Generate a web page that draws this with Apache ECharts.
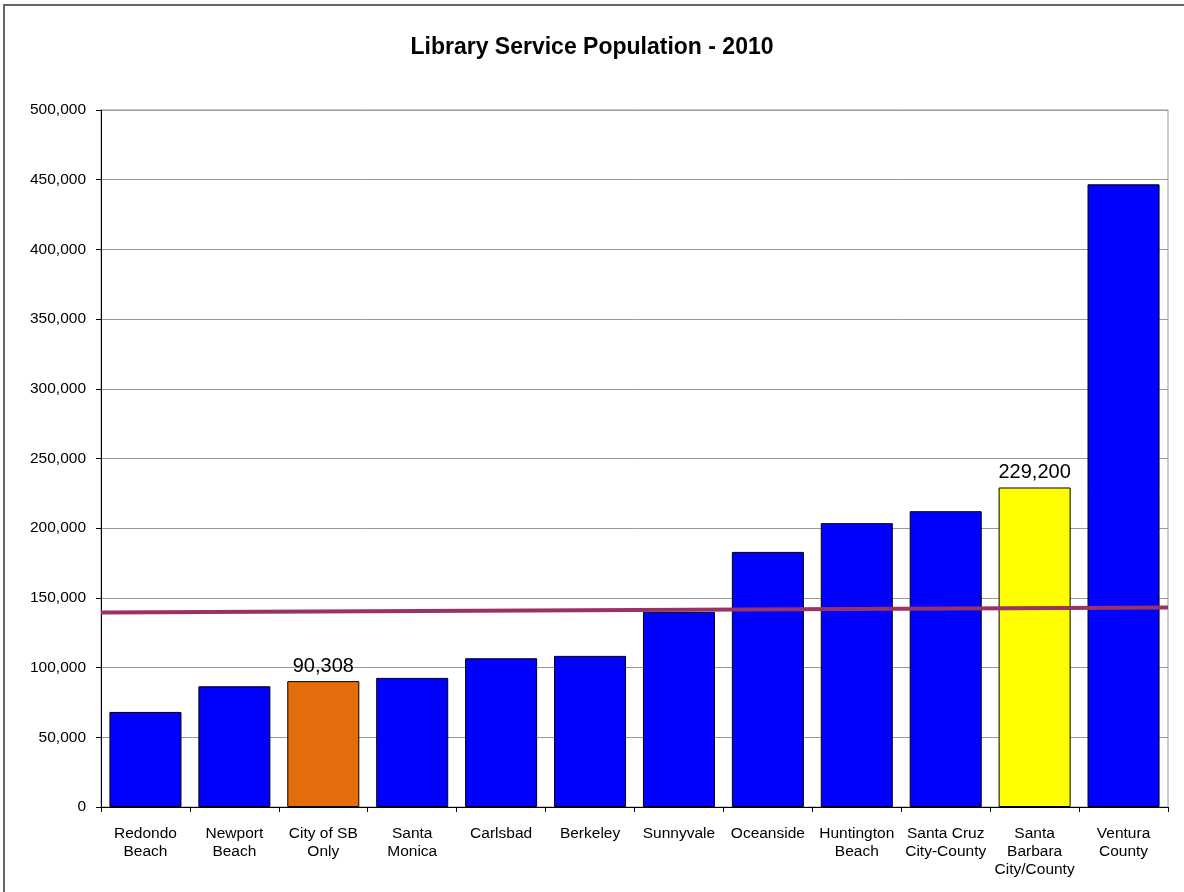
<!DOCTYPE html>
<html>
<head>
<meta charset="utf-8">
<script src="https://cdn.jsdelivr.net/npm/echarts@6/dist/echarts.min.js"></script>
<style>html,body{margin:0;padding:0;background:#fff;}#c{width:1184px;height:892px;}</style>
</head>
<body>
<div id="c"></div>
<script>
const titleText = 'Library Service Population - 2010';
const categories = ['Redondo\nBeach','Newport\nBeach','City of SB\nOnly','Santa\nMonica','Carlsbad','Berkeley','Sunnyvale','Oceanside','Huntington\nBeach','Santa Cruz\nCity-County','Santa\nBarbara\nCity/County','Ventura\nCounty'];
const population = [68200, 86600, 90308, 92600, 106700, 108400, 140000, 183000, 203600, 212200, 229200, 446700];
const barColors = ['#0000FF','#0000FF','#E46C0A','#0000FF','#0000FF','#0000FF','#0000FF','#0000FF','#0000FF','#0000FF','#FFFF00','#0000FF'];
const labelled = [false,false,true,false,false,false,false,false,false,false,true,false];
const trendX = [0, 1];
const trendY = [139500, 143100];
const yTicks = {min: 0, max: 500000, interval: 50000};

const fmt = v => v.toLocaleString('en-US');
const chart = echarts.init(document.getElementById('c'));
const font = 'Liberation Sans, Arial, sans-serif';
chart.setOption({
  animation: false,
  backgroundColor: '#fff',
  title: {text: titleText, left: 'center', top: 31, textStyle: {fontFamily: font, fontSize: 23, fontWeight: 'bold', color: '#000'}},
  graphic: [{type: 'rect', shape: {x: 4, y: 5, width: 1300, height: 1000}, style: {fill: 'none', stroke: '#666', lineWidth: 2}, silent: true}],
  grid: {left: 101, right: 16, top: 110, bottom: 85, show: true, borderColor: '#999', borderWidth: 1},
  xAxis: [{
    type: 'category', data: categories,
    axisLine: {lineStyle: {color: '#000', width: 1}},
    axisTick: {show: true, length: 5, lineStyle: {color: '#000'}},
    axisLabel: {fontFamily: font, fontSize: 15.5, color: '#000', margin: 18, lineHeight: 18, interval: 0}
  }, {
    type: 'value', min: 0, max: 1, show: false
  }],
  yAxis: {
    type: 'value', min: yTicks.min, max: yTicks.max, interval: yTicks.interval,
    axisLine: {show: true, lineStyle: {color: '#000', width: 1}},
    axisTick: {show: true, length: 5, lineStyle: {color: '#000'}},
    axisLabel: {fontFamily: font, fontSize: 15.5, color: '#000', margin: 15, formatter: v => fmt(v)},
    splitLine: {lineStyle: {color: '#999', width: 1}}
  },
  series: [{
    type: 'bar', xAxisIndex: 0, barCategoryGap: '19%',
    data: population.map((v, i) => ({
      value: v,
      itemStyle: {color: barColors[i], borderColor: '#000', borderWidth: 1},
      label: {show: labelled[i], position: 'top', distance: 5, fontFamily: font, fontSize: 20, color: '#000', formatter: p => fmt(p.value)}
    }))
  }, {
    type: 'line', xAxisIndex: 1, data: trendX.map((x, i) => [x, trendY[i]]),
    symbol: 'none', lineStyle: {color: '#993366', width: 4}, z: 5
  }]
});
</script>
</body>
</html>
